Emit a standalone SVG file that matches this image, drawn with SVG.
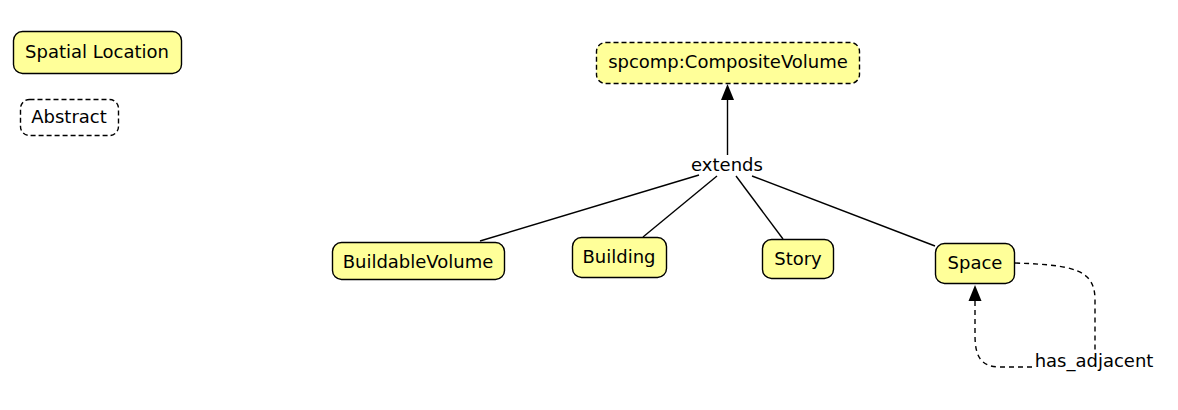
<svg xmlns="http://www.w3.org/2000/svg" width="1178" height="410" viewBox="0 0 1178 410">
<defs>
<style>
.node{fill:#ffff99;stroke:#000;stroke-width:1.4}
.abs{stroke-dasharray:5,3}
.white{fill:#fff}
.t{font-family:"DejaVu Sans",Verdana,sans-serif;font-size:18px;fill:#000;text-anchor:middle}
.e{fill:none;stroke:#000;stroke-width:1.4}
.d{stroke-dasharray:5,4}
</style>
</defs>
<rect width="1178" height="410" fill="#fff"/>
<g id="legend-spatial">
<rect class="node" x="13.5" y="31.5" width="168" height="42" rx="9"/>
<text class="t" x="97" y="58">Spatial Location</text>
</g>
<g id="legend-abstract">
<rect class="node abs white" x="20.5" y="99.5" width="98" height="36" rx="9"/>
<text class="t" x="69" y="123">Abstract</text>
</g>
<g id="composite">
<rect class="node abs" x="596.5" y="42.5" width="263" height="41" rx="9"/>
<text class="t" x="728" y="68">spcomp:CompositeVolume</text>
</g>
<g id="buildablevolume">
<rect class="node" x="332.5" y="242.5" width="172" height="37" rx="9"/>
<text class="t" x="418" y="268">BuildableVolume</text>
</g>
<g id="building">
<rect class="node" x="572.5" y="237.5" width="94" height="40" rx="9"/>
<text class="t" x="619" y="263">Building</text>
</g>
<g id="story">
<rect class="node" x="762.5" y="239.5" width="71" height="39" rx="9"/>
<text class="t" x="798" y="265">Story</text>
</g>
<g id="space">
<rect class="node" x="935.5" y="243.5" width="79" height="40" rx="9"/>
<text class="t" x="975" y="269">Space</text>
</g>
<g id="connectors">
<path class="e" d="M727.5,155 L727.5,100"/>
<path d="M721,100 L727.5,84 L734,100 Z" fill="#000"/>
<text class="t" x="727" y="171">extends</text>
<path class="e" d="M699,175 L480,241"/>
<path class="e" d="M717,176 L643,237"/>
<path class="e" d="M736,176 L783,239"/>
<path class="e" d="M752,176 L935,246"/>
<path class="e d" d="M1015,263 C1075,265 1095,270 1095,300 L1095,352"/>
<path class="e d" d="M1032,367 L1000,367 C980,367 975,355 975,335 L975,301"/>
<path d="M968.5,301 L975,285 L981.5,301 Z" fill="#000"/>
<text class="t" x="1094" y="367">has_adjacent</text>
</g>
</svg>
